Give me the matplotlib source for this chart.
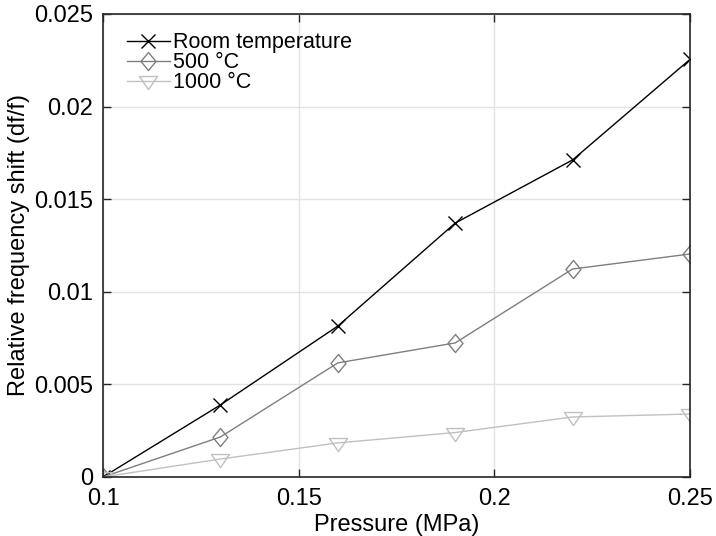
import matplotlib
matplotlib.use("Agg")
import matplotlib.pyplot as plt
from matplotlib.path import Path

plt.rcParams['font.family'] = ['Liberation Sans', 'DejaVu Sans']

pressure = [0.10, 0.13, 0.16, 0.19, 0.22, 0.25]
room = [0.0, 0.00389, 0.00815, 0.01371, 0.01712, 0.02255]
t500 = [0.0, 0.00216, 0.00616, 0.00724, 0.01123, 0.01204]
t1000 = [0.0, 0.00097, 0.00184, 0.00240, 0.00324, 0.00340]

# matlab-like markers: slightly tall diamond, wide down-triangle
diamond = Path([(0, 1), (0.83, 0), (0, -1), (-0.83, 0), (0, 1)],
               [1, 2, 2, 2, 79])
tri_down = Path([(-1, 0.55), (1, 0.55), (0, -0.9), (-1, 0.55)],
                [1, 2, 2, 79])

fig = plt.figure(figsize=(7.16, 5.36), dpi=100)
ax = fig.add_axes([0.1439, 0.1101, 0.8198, 0.8638])

ax.plot(pressure, room, color='black', lw=1.0, marker='x', ms=10, mew=1.0,
        label='Room temperature')
ax.plot(pressure, t500, color='#7f7f7f', lw=1.0, marker=diamond, ms=13,
        mew=1.0, mfc='none', label='500 °C')
ax.plot(pressure, t1000, color='#c0c0c0', lw=1.0, marker=tri_down, ms=13,
        mew=1.0, mfc='none', label='1000 °C')

ax.set_xlim(0.1, 0.25)
ax.set_ylim(0, 0.025)
ax.set_xticks([0.1, 0.15, 0.2, 0.25])
ax.set_xticklabels(['0.1', '0.15', '0.2', '0.25'])
ax.set_yticks([0, 0.005, 0.01, 0.015, 0.02, 0.025])
ax.set_yticklabels(['0', '0.005', '0.01', '0.015', '0.02', '0.025'])
ax.grid(True, color='#e3e3e3', lw=1.0)
ax.set_axisbelow(True)
ax.tick_params(direction='in', length=6, width=1, labelsize=17,
               top=True, right=True, colors='#262626', labelcolor='black')
ax.tick_params(axis='x', pad=8)
ax.tick_params(axis='y', pad=7)
for s in ax.spines.values():
    s.set_color('#262626')
    s.set_linewidth(1.2)

ax.set_xlabel('Pressure (MPa)', fontsize=17, labelpad=3)
ax.set_ylabel('Relative frequency shift (df/f)', fontsize=17, labelpad=3)

ax.legend(loc='upper left', frameon=False, fontsize=15.5, handlelength=2.0,
          handletextpad=0.15, labelspacing=-0.05, borderaxespad=0.3,
          bbox_to_anchor=(0.015, 0.993))

fig.savefig('out.png', dpi=100)
